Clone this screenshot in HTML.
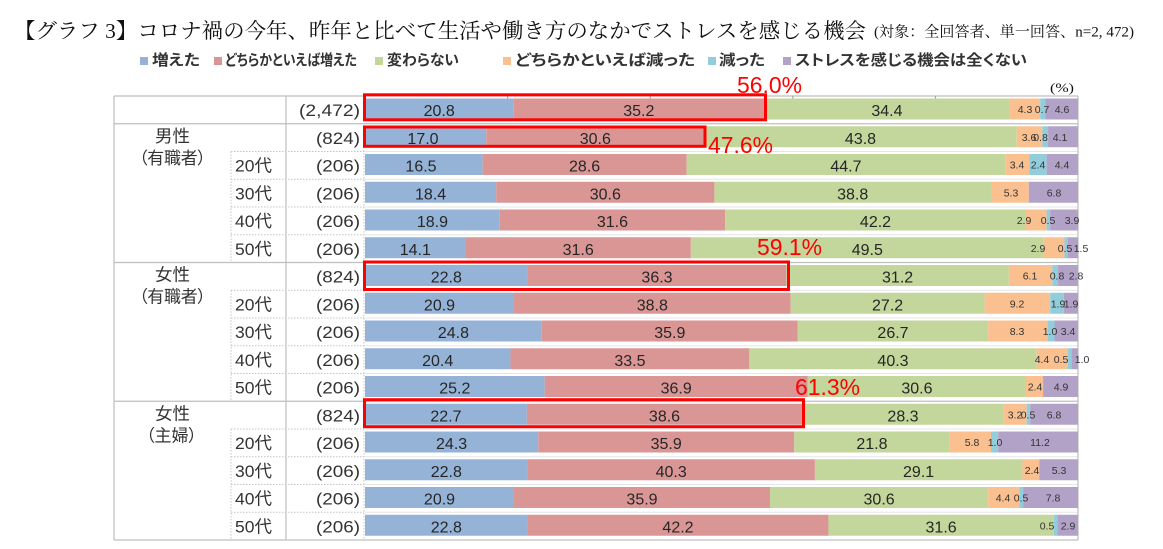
<!DOCTYPE html>
<html><head><meta charset="utf-8">
<style>
html,body{margin:0;padding:0;background:#fff;width:1163px;height:549px;overflow:hidden}
svg{display:block}
.t{font-family:"Liberation Serif","Noto Serif CJK SC",serif;fill:#111}
.lg{font-family:"Liberation Sans","Noto Sans CJK JP",sans-serif;font-size:15px;fill:#333;font-weight:bold;font-feature-settings:"palt"}
.tb{font-family:"Liberation Sans","Noto Sans CJK JP",sans-serif;font-size:17px;fill:#333}
.jp{font-feature-settings:"palt"}
.v{font-family:"Liberation Sans","Noto Sans CJK JP",sans-serif;font-size:16px;fill:#262626;text-anchor:middle}
.s{font-family:"Liberation Sans","Noto Sans CJK JP",sans-serif;font-size:10.5px;fill:#333;text-anchor:middle}
.r{font-family:"Liberation Sans","Noto Sans CJK JP",sans-serif;font-size:23px;fill:#ff0000}
.b{fill:#95b3d7}.d{fill:#d99694}.g{fill:#c3d69b}.o{fill:#fac090}.c{fill:#92cddc}.p{fill:#b3a2c7}
</style></head>
<body>
<svg width="1163" height="549" viewBox="0 0 1163 549" xmlns="http://www.w3.org/2000/svg">
<rect width="1163" height="549" fill="#fff"/>
<!-- Title -->
<text class="t" x="14" y="38" font-size="21" textLength="852" lengthAdjust="spacingAndGlyphs">【グラフ 3】コロナ禍の今年、昨年と比べて生活や働き方のなかでストレスを感じる機会</text>
<text class="t" x="874" y="36.5" font-size="15" textLength="260" lengthAdjust="spacingAndGlyphs">(対象：全回答者、単一回答、n=2, 472)</text>

<!-- Legend -->
<rect x="140" y="57" width="8" height="8" class="b"/>
<text class="lg" x="152" y="65" textLength="48" lengthAdjust="spacingAndGlyphs">増えた</text>
<rect x="214" y="57" width="8" height="8" class="d"/>
<text class="lg" x="225" y="65" textLength="132" lengthAdjust="spacingAndGlyphs">どちらかといえば増えた</text>
<rect x="375" y="57" width="8" height="8" class="g"/>
<text class="lg" x="387" y="65" textLength="72" lengthAdjust="spacingAndGlyphs">変わらない</text>
<rect x="503" y="57" width="8" height="8" class="o"/>
<text class="lg" x="515" y="65" textLength="180" lengthAdjust="spacingAndGlyphs">どちらかといえば減った</text>
<rect x="708" y="57" width="8" height="8" class="c"/>
<text class="lg" x="719" y="65" textLength="46" lengthAdjust="spacingAndGlyphs">減った</text>
<rect x="783" y="57" width="8" height="8" class="p"/>
<text class="lg" x="795" y="65" textLength="232" lengthAdjust="spacingAndGlyphs">ストレスを感じる機会は全くない</text>

<text class="t" x="1050" y="92" font-size="13" textLength="24" lengthAdjust="spacingAndGlyphs">(%)</text>

<!-- faint row lines in bar area -->
<g stroke="#e6e6e6" stroke-width="1">
<line x1="365" y1="151.5" x2="1078" y2="151.5"/><line x1="365" y1="179.25" x2="1078" y2="179.25"/>
<line x1="365" y1="207" x2="1078" y2="207"/><line x1="365" y1="234.75" x2="1078" y2="234.75"/>
<line x1="365" y1="290.25" x2="1078" y2="290.25"/><line x1="365" y1="318" x2="1078" y2="318"/>
<line x1="365" y1="345.75" x2="1078" y2="345.75"/><line x1="365" y1="373.5" x2="1078" y2="373.5"/>
<line x1="365" y1="429" x2="1078" y2="429"/><line x1="365" y1="456.75" x2="1078" y2="456.75"/>
<line x1="365" y1="484.5" x2="1078" y2="484.5"/><line x1="365" y1="512.25" x2="1078" y2="512.25"/>
</g>

<!-- Table lines -->
<g stroke="#bfbfbf" stroke-width="1.2" fill="none">
<line x1="114" y1="96" x2="1078" y2="96"/>
<line x1="114" y1="123.75" x2="1078" y2="123.75"/>
<line x1="114" y1="262.5" x2="1078" y2="262.5"/>
<line x1="114" y1="401.25" x2="1078" y2="401.25"/>
<line x1="114" y1="540" x2="1078" y2="540"/>
<line x1="114" y1="96" x2="114" y2="540"/>
<line x1="286" y1="96" x2="286" y2="540"/>
<line x1="1078" y1="96" x2="1078" y2="540"/>
</g>
<g stroke="#c4c4c4" stroke-width="1" stroke-dasharray="1.5,1.5" fill="none">
<line x1="231" y1="151.5" x2="231" y2="262.5"/>
<line x1="231" y1="290.25" x2="231" y2="401.25"/>
<line x1="231" y1="429" x2="231" y2="540"/>
<line x1="364" y1="96" x2="364" y2="540"/>
<line x1="231" y1="151.5" x2="364" y2="151.5"/><line x1="231" y1="179.25" x2="364" y2="179.25"/>
<line x1="231" y1="207" x2="364" y2="207"/><line x1="231" y1="234.75" x2="364" y2="234.75"/>
<line x1="231" y1="290.25" x2="364" y2="290.25"/><line x1="231" y1="318" x2="364" y2="318"/>
<line x1="231" y1="345.75" x2="364" y2="345.75"/><line x1="231" y1="373.5" x2="364" y2="373.5"/>
<line x1="231" y1="429" x2="364" y2="429"/><line x1="231" y1="456.75" x2="364" y2="456.75"/>
<line x1="231" y1="484.5" x2="364" y2="484.5"/><line x1="231" y1="512.25" x2="364" y2="512.25"/>
</g>
<g stroke="#999" stroke-width="1">
<line x1="507.6" y1="96" x2="507.6" y2="99"/><line x1="650.2" y1="96" x2="650.2" y2="99"/>
<line x1="792.8" y1="96" x2="792.8" y2="99"/><line x1="935.4" y1="96" x2="935.4" y2="99"/>
</g>

<!-- Bars -->
<g>
<rect class="b" x="365" y="98.5" width="148.3" height="21"/><rect class="d" x="513.3" y="98.5" width="250.98" height="21"/><rect class="g" x="764.28" y="98.5" width="245.27" height="21"/><rect class="o" x="1009.55" y="98.5" width="30.66" height="21"/><rect class="c" x="1040.21" y="98.5" width="4.99" height="21"/><rect class="p" x="1045.2" y="98.5" width="32.8" height="21"/>
<rect class="b" x="365" y="126.25" width="121.21" height="21"/><rect class="d" x="486.21" y="126.25" width="218.18" height="21"/><rect class="g" x="704.39" y="126.25" width="312.29" height="21"/><rect class="o" x="1016.68" y="126.25" width="25.67" height="21"/><rect class="c" x="1042.35" y="126.25" width="5.7" height="21"/><rect class="p" x="1048.05" y="126.25" width="29.95" height="21"/>
<rect class="b" x="365" y="154" width="117.65" height="21"/><rect class="d" x="482.65" y="154" width="203.91" height="21"/><rect class="g" x="686.56" y="154" width="318.71" height="21"/><rect class="o" x="1005.27" y="154" width="24.25" height="21"/><rect class="c" x="1029.52" y="154" width="17.11" height="21"/><rect class="p" x="1046.63" y="154" width="31.37" height="21"/>
<rect class="b" x="365" y="181.75" width="131.19" height="21"/><rect class="d" x="496.19" y="181.75" width="218.18" height="21"/><rect class="g" x="714.37" y="181.75" width="276.64" height="21"/><rect class="o" x="991.01" y="181.75" width="37.79" height="21"/><rect class="p" x="1028.8" y="181.75" width="49.2" height="21"/>
<rect class="b" x="365" y="209.5" width="134.76" height="21"/><rect class="d" x="499.76" y="209.5" width="225.31" height="21"/><rect class="g" x="725.07" y="209.5" width="300.88" height="21"/><rect class="o" x="1025.95" y="209.5" width="20.68" height="21"/><rect class="c" x="1046.63" y="209.5" width="3.56" height="21"/><rect class="p" x="1050.19" y="209.5" width="27.81" height="21"/>
<rect class="b" x="365" y="237.25" width="100.53" height="21"/><rect class="d" x="465.53" y="237.25" width="225.31" height="21"/><rect class="g" x="690.84" y="237.25" width="352.94" height="21"/><rect class="o" x="1043.78" y="237.25" width="20.67" height="21"/><rect class="c" x="1064.45" y="237.25" width="3.57" height="21"/><rect class="p" x="1068.02" y="237.25" width="9.98" height="21"/>
<rect class="b" x="365" y="265" width="162.56" height="21"/><rect class="d" x="527.56" y="265" width="258.82" height="21"/><rect class="g" x="786.38" y="265" width="222.46" height="21"/><rect class="o" x="1008.84" y="265" width="43.49" height="21"/><rect class="c" x="1052.33" y="265" width="5.71" height="21"/><rect class="p" x="1058.04" y="265" width="19.96" height="21"/>
<rect class="b" x="365" y="292.75" width="149.02" height="21"/><rect class="d" x="514.02" y="292.75" width="276.64" height="21"/><rect class="g" x="790.66" y="292.75" width="193.94" height="21"/><rect class="o" x="984.6" y="292.75" width="65.59" height="21"/><rect class="c" x="1050.19" y="292.75" width="13.55" height="21"/><rect class="p" x="1063.74" y="292.75" width="14.26" height="21"/>
<rect class="b" x="365" y="320.5" width="176.82" height="21"/><rect class="d" x="541.82" y="320.5" width="255.97" height="21"/><rect class="g" x="797.79" y="320.5" width="190.37" height="21"/><rect class="o" x="988.16" y="320.5" width="59.18" height="21"/><rect class="c" x="1047.34" y="320.5" width="7.13" height="21"/><rect class="p" x="1054.47" y="320.5" width="23.53" height="21"/>
<rect class="b" x="365" y="348.25" width="145.45" height="21"/><rect class="d" x="510.45" y="348.25" width="238.86" height="21"/><rect class="g" x="749.31" y="348.25" width="287.34" height="21"/><rect class="o" x="1036.65" y="348.25" width="31.37" height="21"/><rect class="c" x="1068.02" y="348.25" width="3.56" height="21"/><rect class="p" x="1071.58" y="348.25" width="6.42" height="21"/>
<rect class="b" x="365" y="376" width="179.68" height="21"/><rect class="d" x="544.68" y="376" width="263.09" height="21"/><rect class="g" x="807.77" y="376" width="218.18" height="21"/><rect class="o" x="1025.95" y="376" width="17.11" height="21"/><rect class="p" x="1043.06" y="376" width="34.94" height="21"/>
<rect class="b" x="365" y="403.75" width="161.85" height="21"/><rect class="d" x="526.85" y="403.75" width="275.22" height="21"/><rect class="g" x="802.07" y="403.75" width="201.78" height="21"/><rect class="o" x="1003.85" y="403.75" width="22.81" height="21"/><rect class="c" x="1026.66" y="403.75" width="3.57" height="21"/><rect class="p" x="1030.23" y="403.75" width="47.77" height="21"/>
<rect class="b" x="365" y="431.5" width="173.26" height="21"/><rect class="d" x="538.26" y="431.5" width="255.97" height="21"/><rect class="g" x="794.23" y="431.5" width="155.43" height="21"/><rect class="o" x="949.66" y="431.5" width="41.35" height="21"/><rect class="c" x="991.01" y="431.5" width="7.13" height="21"/><rect class="p" x="998.14" y="431.5" width="79.86" height="21"/>
<rect class="b" x="365" y="459.25" width="162.56" height="21"/><rect class="d" x="527.56" y="459.25" width="287.34" height="21"/><rect class="g" x="814.9" y="459.25" width="207.49" height="21"/><rect class="o" x="1022.39" y="459.25" width="17.11" height="21"/><rect class="p" x="1039.5" y="459.25" width="38.5" height="21"/>
<rect class="b" x="365" y="487" width="149.02" height="21"/><rect class="d" x="514.02" y="487" width="255.96" height="21"/><rect class="g" x="769.98" y="487" width="218.18" height="21"/><rect class="o" x="988.16" y="487" width="31.37" height="21"/><rect class="c" x="1019.53" y="487" width="3.57" height="21"/><rect class="p" x="1023.1" y="487" width="54.9" height="21"/>
<rect class="b" x="365" y="514.75" width="162.56" height="21"/><rect class="d" x="527.56" y="514.75" width="300.89" height="21"/><rect class="g" x="828.45" y="514.75" width="225.31" height="21"/><rect class="c" x="1053.76" y="514.75" width="3.56" height="21"/><rect class="p" x="1057.32" y="514.75" width="20.68" height="21"/>
</g>

<!-- Main value labels -->
<g>
<text class="v" x="439.2" y="116">20.8</text><text class="v" x="638.8" y="116">35.2</text><text class="v" x="886.9" y="116">34.4</text>
<text class="v" x="423" y="143.75">17.0</text><text class="v" x="595.3" y="143.75">30.6</text><text class="v" x="860.5" y="143.75">43.8</text>
<text class="v" x="421" y="171.5">16.5</text><text class="v" x="584.6" y="171.5">28.6</text><text class="v" x="845.9" y="171.5">44.7</text>
<text class="v" x="430.6" y="199.25">18.4</text><text class="v" x="605.3" y="199.25">30.6</text><text class="v" x="852.7" y="199.25">38.8</text>
<text class="v" x="432.4" y="227">18.9</text><text class="v" x="612.4" y="227">31.6</text><text class="v" x="875.5" y="227">42.2</text>
<text class="v" x="415.3" y="254.75">14.1</text><text class="v" x="578.2" y="254.75">31.6</text><text class="v" x="867.3" y="254.75">49.5</text>
<text class="v" x="446.3" y="282.5">22.8</text><text class="v" x="657" y="282.5">36.3</text><text class="v" x="897.6" y="282.5">31.2</text>
<text class="v" x="439.5" y="310.25">20.9</text><text class="v" x="652.3" y="310.25">38.8</text><text class="v" x="887.6" y="310.25">27.2</text>
<text class="v" x="453.4" y="338">24.8</text><text class="v" x="669.8" y="338">35.9</text><text class="v" x="893" y="338">26.7</text>
<text class="v" x="437.7" y="365.75">20.4</text><text class="v" x="629.9" y="365.75">33.5</text><text class="v" x="893" y="365.75">40.3</text>
<text class="v" x="454.8" y="393.5">25.2</text><text class="v" x="676.2" y="393.5">36.9</text><text class="v" x="916.9" y="393.5">30.6</text>
<text class="v" x="445.9" y="421.25">22.7</text><text class="v" x="664.5" y="421.25">38.6</text><text class="v" x="903" y="421.25">28.3</text>
<text class="v" x="451.6" y="449">24.3</text><text class="v" x="666.2" y="449">35.9</text><text class="v" x="871.9" y="449">21.8</text>
<text class="v" x="446.3" y="476.75">22.8</text><text class="v" x="671.2" y="476.75">40.3</text><text class="v" x="918.6" y="476.75">29.1</text>
<text class="v" x="439.5" y="504.5">20.9</text><text class="v" x="642" y="504.5">35.9</text><text class="v" x="879.1" y="504.5">30.6</text>
<text class="v" x="446.3" y="532.25">22.8</text><text class="v" x="678" y="532.25">42.2</text><text class="v" x="941.1" y="532.25">31.6</text>
</g>

<!-- Small labels -->
<g>
<text class="s" x="1025" y="113">4.3</text><text class="s" x="1042" y="113">0.7</text><text class="s" x="1062" y="113">4.6</text>
<text class="s" x="1029" y="140.75">3.6</text><text class="s" x="1040.5" y="140.75">0.8</text><text class="s" x="1060" y="140.75">4.1</text>
<text class="s" x="1017" y="168.5">3.4</text><text class="s" x="1038" y="168.5">2.4</text><text class="s" x="1062" y="168.5">4.4</text>
<text class="s" x="1011" y="196.25">5.3</text><text class="s" x="1054" y="196.25">6.8</text>
<text class="s" x="1024" y="224">2.9</text><text class="s" x="1048" y="224">0.5</text><text class="s" x="1072" y="224">3.9</text>
<text class="s" x="1038" y="251.75">2.9</text><text class="s" x="1065" y="251.75">0.5</text><text class="s" x="1081" y="251.75">1.5</text>
<text class="s" x="1030" y="279.5">6.1</text><text class="s" x="1057" y="279.5">0.8</text><text class="s" x="1076" y="279.5">2.8</text>
<text class="s" x="1017" y="307.25">9.2</text><text class="s" x="1058" y="307.25">1.9</text><text class="s" x="1071" y="307.25">1.9</text>
<text class="s" x="1017" y="335">8.3</text><text class="s" x="1050" y="335">1.0</text><text class="s" x="1068" y="335">3.4</text>
<text class="s" x="1042" y="362.75">4.4</text><text class="s" x="1061" y="362.75">0.5</text><text class="s" x="1082" y="362.75">1.0</text>
<text class="s" x="1035" y="390.5">2.4</text><text class="s" x="1061" y="390.5">4.9</text>
<text class="s" x="1015" y="418.25">3.2</text><text class="s" x="1028" y="418.25">0.5</text><text class="s" x="1054" y="418.25">6.8</text>
<text class="s" x="972" y="446">5.8</text><text class="s" x="995" y="446">1.0</text><text class="s" x="1040" y="446">11.2</text>
<text class="s" x="1032" y="473.75">2.4</text><text class="s" x="1059" y="473.75">5.3</text>
<text class="s" x="1003" y="501.5">4.4</text><text class="s" x="1021" y="501.5">0.5</text><text class="s" x="1053" y="501.5">7.8</text>
<text class="s" x="1047" y="529.25">0.5</text><text class="s" x="1068" y="529.25">2.9</text>
</g>

<!-- Table text -->
<g class="tb">
<text x="299" y="116" textLength="61" lengthAdjust="spacingAndGlyphs">(2,472)</text>
<text x="316" y="143.75" textLength="44" lengthAdjust="spacingAndGlyphs">(824)</text>
<text x="316" y="171.5" textLength="44" lengthAdjust="spacingAndGlyphs">(206)</text>
<text x="316" y="199.25" textLength="44" lengthAdjust="spacingAndGlyphs">(206)</text>
<text x="316" y="227" textLength="44" lengthAdjust="spacingAndGlyphs">(206)</text>
<text x="316" y="254.75" textLength="44" lengthAdjust="spacingAndGlyphs">(206)</text>
<text x="316" y="282.5" textLength="44" lengthAdjust="spacingAndGlyphs">(824)</text>
<text x="316" y="310.25" textLength="44" lengthAdjust="spacingAndGlyphs">(206)</text>
<text x="316" y="338" textLength="44" lengthAdjust="spacingAndGlyphs">(206)</text>
<text x="316" y="365.75" textLength="44" lengthAdjust="spacingAndGlyphs">(206)</text>
<text x="316" y="393.5" textLength="44" lengthAdjust="spacingAndGlyphs">(206)</text>
<text x="316" y="421.25" textLength="44" lengthAdjust="spacingAndGlyphs">(824)</text>
<text x="316" y="449" textLength="44" lengthAdjust="spacingAndGlyphs">(206)</text>
<text x="316" y="476.75" textLength="44" lengthAdjust="spacingAndGlyphs">(206)</text>
<text x="316" y="504.5" textLength="44" lengthAdjust="spacingAndGlyphs">(206)</text>
<text x="316" y="532.25" textLength="44" lengthAdjust="spacingAndGlyphs">(206)</text>

<text x="235" y="171.5" textLength="37" lengthAdjust="spacingAndGlyphs">20代</text>
<text x="235" y="199.25" textLength="37" lengthAdjust="spacingAndGlyphs">30代</text>
<text x="235" y="227" textLength="37" lengthAdjust="spacingAndGlyphs">40代</text>
<text x="235" y="254.75" textLength="37" lengthAdjust="spacingAndGlyphs">50代</text>
<text x="235" y="310.25" textLength="37" lengthAdjust="spacingAndGlyphs">20代</text>
<text x="235" y="338" textLength="37" lengthAdjust="spacingAndGlyphs">30代</text>
<text x="235" y="365.75" textLength="37" lengthAdjust="spacingAndGlyphs">40代</text>
<text x="235" y="393.5" textLength="37" lengthAdjust="spacingAndGlyphs">50代</text>
<text x="235" y="449" textLength="37" lengthAdjust="spacingAndGlyphs">20代</text>
<text x="235" y="476.75" textLength="37" lengthAdjust="spacingAndGlyphs">30代</text>
<text x="235" y="504.5" textLength="37" lengthAdjust="spacingAndGlyphs">40代</text>
<text x="235" y="532.25" textLength="37" lengthAdjust="spacingAndGlyphs">50代</text>

<text x="155" y="141.75" textLength="35" lengthAdjust="spacingAndGlyphs">男性</text>
<text class="jp" x="139" y="163.75" textLength="67" lengthAdjust="spacing">（有職者）</text>
<text x="155" y="280.5" textLength="35" lengthAdjust="spacingAndGlyphs">女性</text>
<text class="jp" x="139" y="302.5" textLength="67" lengthAdjust="spacing">（有職者）</text>
<text x="155" y="419.25" textLength="35" lengthAdjust="spacingAndGlyphs">女性</text>
<text class="jp" x="146" y="441.25" textLength="51" lengthAdjust="spacing">（主婦）</text>
</g>

<!-- Red highlight boxes -->
<g fill="none" stroke="#ff0000" stroke-width="3">
<rect x="364.5" y="94.8" width="401" height="25"/>
<rect x="364.5" y="127" width="340.5" height="19.3"/>
<rect x="364.5" y="262" width="424" height="27.5"/>
<rect x="364.5" y="399.7" width="439" height="27"/>
</g>

<!-- Red percentage labels -->
<text class="r" x="737" y="93" textLength="65" lengthAdjust="spacingAndGlyphs">56.0%</text>
<text class="r" x="708" y="153" textLength="65" lengthAdjust="spacingAndGlyphs">47.6%</text>
<text class="r" x="757" y="255" textLength="65" lengthAdjust="spacingAndGlyphs">59.1%</text>
<text class="r" x="795" y="395" textLength="65" lengthAdjust="spacingAndGlyphs">61.3%</text>
</svg>
</body></html>
